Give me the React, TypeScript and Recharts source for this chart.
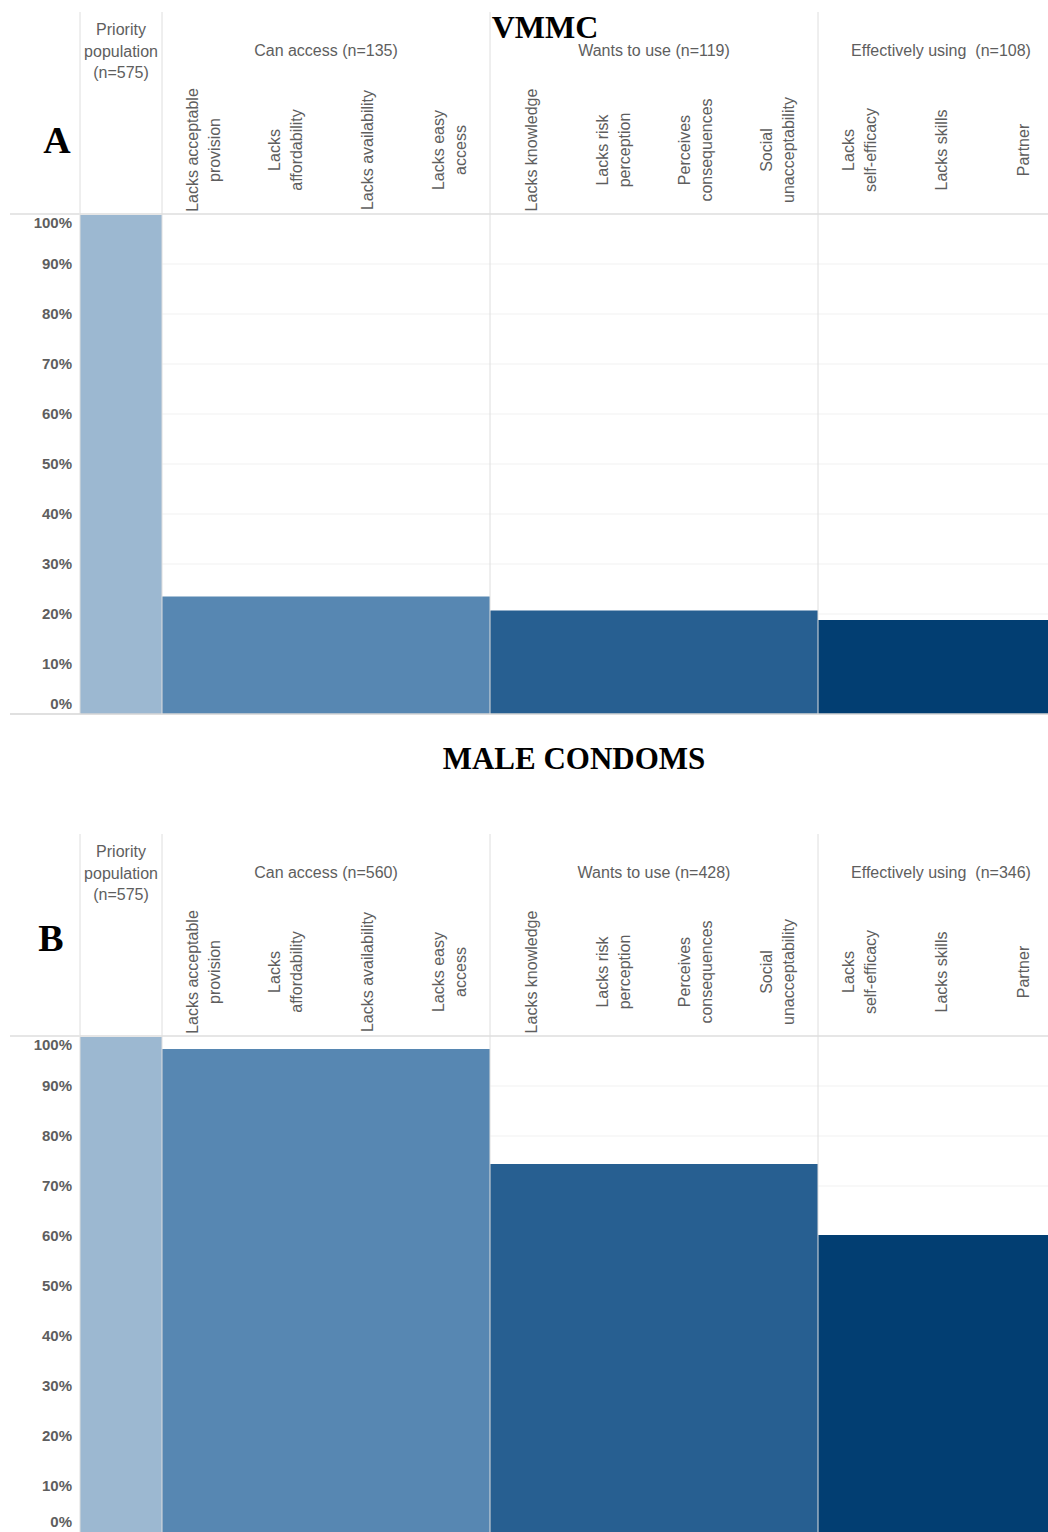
import { BarChart, Bar, XAxis, YAxis, CartesianGrid, ReferenceLine, Cell } from "recharts"

const STAGES = ["Priority population", "Can access", "Wants to use", "Effectively using"]
const STAGE_COLORS = ["#9cb8d1", "#5787b2", "#275f91", "#023e72"]
const SUB_LABELS = [
  [""],
  ["Lacks acceptable|provision", "Lacks|affordability", "Lacks availability", "Lacks easy|access"],
  ["Lacks knowledge", "Lacks risk|perception", "Perceives|consequences", "Social|unacceptability"],
  ["Lacks|self-efficacy", "Lacks skills", "Partner"],
]
const VMMC_N = [575, 135, 119, 108]
const VMMC_PCT = [100, 23.5, 20.7, 18.8]
const CONDOM_N = [575, 560, 428, 346]
const CONDOM_PCT = [100, 97.4, 74.4, 60.2]
const Y_TICKS = [0, 10, 20, 30, 40, 50, 60, 70, 80, 90, 100]

const COL_W = 82
const FONT = "'Liberation Sans', Arial, sans-serif"
const SERIF = "'Liberation Serif', 'Times New Roman', serif"
const GREY = "#5e5e5e"

type Row = { key: string; stage: number; sub: string; first: boolean; groupSize: number; value: number }

function buildRows(pct: number[]): Row[] {
  const rows: Row[] = []
  SUB_LABELS.forEach((subs, s) => {
    subs.forEach((sub, j) => {
      rows.push({ key: `${s}-${j}`, stage: s, sub, first: j === 0, groupSize: subs.length, value: pct[s] })
    })
  })
  return rows
}

function makeHeaderTick(rows: Row[], counts: number[]) {
  return (props: any) => {
    const { x, payload } = props
    const row = rows.find((r) => r.key === payload.value)
    if (!row) return <g />
    const parts: any[] = []
    if (row.first) {
      if (row.stage === 0) {
        ;["Priority", "population", `(n=${counts[0]})`].forEach((t, i) => {
          parts.push(
            <text key={"p" + i} x={x} y={35 + i * 21.5} textAnchor="middle" fill={GREY} fontSize={16} fontFamily={FONT}>
              {t}
            </text>
          )
        })
      } else {
        const cx = x + ((row.groupSize - 1) * COL_W) / 2
        const gap = row.stage === 3 ? "  " : " "
        parts.push(
          <text key="g" x={cx} y={56} textAnchor="middle" fill={GREY} fontSize={16} fontFamily={FONT} style={{ whiteSpace: "pre" }}>
            {`${STAGES[row.stage]}${gap}(n=${counts[row.stage]})`}
          </text>
        )
      }
    }
    if (row.sub) {
      const lines = row.sub.split("|")
      lines.forEach((t, i) => {
        const bx = x + 6 + (i - (lines.length - 1) / 2) * 22
        parts.push(
          <text
            key={"s" + i}
            x={bx}
            y={150}
            textAnchor="middle"
            fill={GREY}
            fontSize={16}
            fontFamily={FONT}
            transform={`rotate(-90, ${bx}, 150)`}
          >
            {t}
          </text>
        )
      })
    }
    return <g>{parts}</g>
  }
}

function makeYTick(zeroShift: number) {
  return (props: any) => {
    const { y, payload } = props
    const v = payload.value
    const dy = v === 100 ? 9 : v === 0 ? zeroShift : 0
    return (
      <g>
        {(v === 0 || v === 100) && (
          <line x1={10} x2={80} y1={y} y2={y} stroke={v === 100 ? "#e6e6e6" : "#d6d6d6"} strokeWidth={v === 100 ? 2 : 1.5} />
        )}
        <text x={72} y={y + dy} dy="0.36em" textAnchor="end" fill={GREY} fontSize={15} fontWeight="bold" fontFamily={FONT}>
          {`${v}%`}
        </text>
      </g>
    )
  }
}

function Panel({ pct, counts, top, zeroShift }: { pct: number[]; counts: number[]; top: number; zeroShift: number }) {
  const rows = buildRows(pct)
  const firstKeys = rows.filter((r) => r.first).map((r) => r.key)
  return (
    <div style={{ position: "absolute", left: 0, top }}>
      <BarChart
        width={1064}
        height={720}
        data={rows}
        margin={{ top: 12, right: 0, bottom: 6, left: 10 }}
        barCategoryGap={0}
        barGap={0}
      >
        <CartesianGrid horizontal vertical={false} stroke="#f1f1f1" />
        <XAxis
          dataKey="key"
          orientation="top"
          height={202}
          interval={0}
          axisLine={false}
          tickLine={false}
          tick={makeHeaderTick(rows, counts)}
        />
        <YAxis
          type="number"
          domain={[0, 100]}
          ticks={Y_TICKS}
          interval={0}
          width={70}
          axisLine={false}
          tickLine={false}
          tick={makeYTick(zeroShift)}
        />
        <Bar dataKey="value" isAnimationActive={false}>
          {rows.map((r) => (
            <Cell key={r.key} fill={STAGE_COLORS[r.stage]} />
          ))}
        </Bar>
        <ReferenceLine y={100} stroke="#e6e6e6" strokeWidth={2} />
        <ReferenceLine y={0} stroke="#d6d6d6" strokeWidth={1.5} />
        {firstKeys.map((k) => (
          <ReferenceLine
            key={"v" + k}
            segment={[
              { x: k, y: 0 },
              { x: k, y: 140.4 },
            ]}
            position="start"
            ifOverflow="visible"
            stroke="#dedede"
            strokeWidth={1}
          />
        ))}
      </BarChart>
    </div>
  )
}

export default function App() {
  return (
    <div style={{ position: "absolute", left: 0, top: 0, width: 1048, height: 1532, overflow: "hidden", background: "#fff" }}>
      <Panel pct={VMMC_PCT} counts={VMMC_N} top={0} zeroShift={-10} />
      <Panel pct={CONDOM_PCT} counts={CONDOM_N} top={822} zeroShift={-14} />
      <svg width={1048} height={1532} style={{ position: "absolute", left: 0, top: 0, pointerEvents: "none" }}>
        <text x={545} y={38} textAnchor="middle" fontFamily={SERIF} fontWeight="bold" fontSize={32} fill="#000">
          VMMC
        </text>
        <text x={57} y={153} textAnchor="middle" fontFamily={SERIF} fontWeight="bold" fontSize={38} fill="#000">
          A
        </text>
        <text x={574} y={769} textAnchor="middle" fontFamily={SERIF} fontWeight="bold" fontSize={31} fill="#000">
          MALE CONDOMS
        </text>
        <text x={51} y={951} textAnchor="middle" fontFamily={SERIF} fontWeight="bold" fontSize={38} fill="#000">
          B
        </text>
      </svg>
    </div>
  )
}
